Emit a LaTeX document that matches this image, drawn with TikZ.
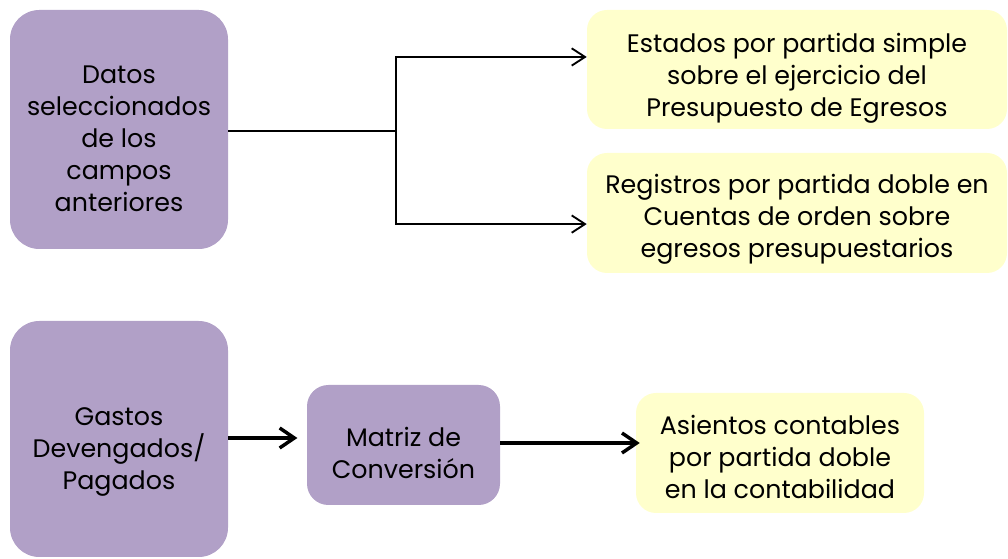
\documentclass[tikz,border=0pt]{standalone}
\usepackage{fontspec}
\setmainfont{Poppins}
\usepackage{tikz}
\usetikzlibrary{arrows.meta, positioning}
\definecolor{lila}{HTML}{B1A0C7}
\definecolor{crema}{HTML}{FFFFCC}

\begin{document}
\begin{tikzpicture}[x=0.75pt, y=-0.75pt,
        every node/.style={font=\fontsize{19}{24}\selectfont, align=center, inner sep=2pt},
        fuente/.style={fill=lila, rounded corners=22pt},
        proceso/.style={fill=lila, rounded corners=16pt},
        salida/.style={fill=crema, rounded corners=15pt},
        fina/.style={line width=1.4pt, -{Straight Barb[length=10pt, width=13pt]}},
        gruesa/.style={line width=2.6pt, -{Straight Barb[length=11pt, width=15pt, line width=2.6pt]}}]
        \useasboundingbox (0,0) rectangle (1008,559);

        % Draw the boxes
        \node[fuente, minimum width=163.5pt, minimum height=179.25pt, text height=123.5pt] (datos) at (119,129.5)
            {Datos\\seleccionados\\de los\\campos\\anteriores};
        \node[salida, minimum width=315pt, minimum height=89.25pt, text height=75.5pt] (estados) at (797,69.5)
            {Estados por partida simple\\sobre el ejercicio del\\Presupuesto de Egresos};
        \node[salida, minimum width=315pt, minimum height=90pt, text height=72.5pt] (registros) at (797,213)
            {Registros por partida doble en\\Cuentas de orden sobre\\egresos presupuestarios};
        \node[fuente, minimum width=163.5pt, minimum height=177pt, text height=80.5pt] (gastos) at (119,439)
            {Gastos\\Devengados/\\Pagados};
        \node[proceso, minimum width=144.75pt, minimum height=90pt, text height=50.5pt] (matriz) at (403.5,445)
            {Matriz de\\Conversión};
        \node[salida, minimum width=216pt, minimum height=90pt, text height=68.5pt] (asientos) at (780,453)
            {Asientos contables\\por partida doble\\en la contabilidad};

        % Connect the boxes with arrows
        \coordinate (split) at (396,131);
        \draw[line width=1.4pt] (datos.east |- split) -- (split);
        \draw[fina] (split) |- ([yshift=9.4pt]estados.west);
        \draw[fina] (split) |- ([yshift=-8.3pt]registros.west);
        \draw[gruesa, shorten >=7pt] (gastos.east |- 0,438) -- (matriz.west |- 0,438);
        \draw[gruesa, shorten >=-3pt] (matriz.east |- 0,443) -- (asientos.west |- 0,443);
\end{tikzpicture}
\end{document}
